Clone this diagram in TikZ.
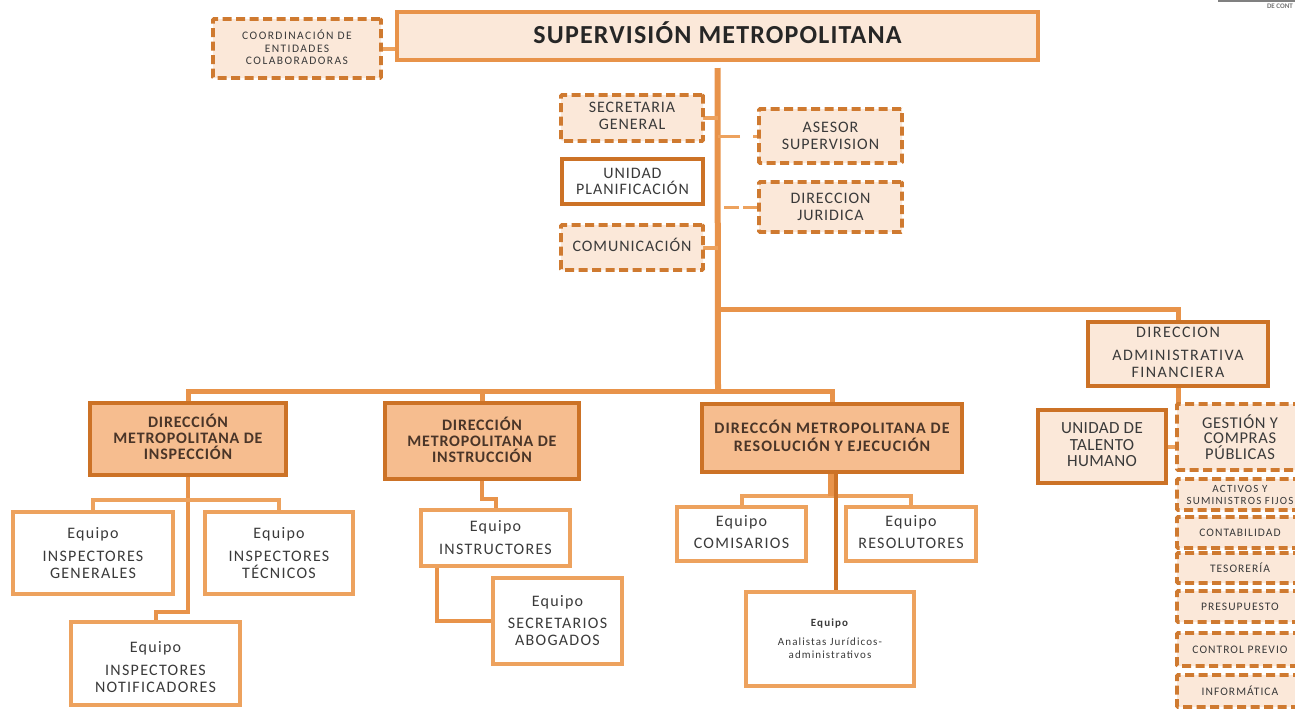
\documentclass[tikz,border=0pt]{standalone}
\usepackage{fontspec}
\setmainfont{Carlito}
\usetikzlibrary{backgrounds}
\definecolor{lineor}{HTML}{EDA25E}
\definecolor{midor}{HTML}{E8934A}
\definecolor{darkor}{HTML}{CF7A30}
\definecolor{deepor}{HTML}{CC7226}
\definecolor{softfill}{HTML}{FBE8D9}
\definecolor{strongfill}{HTML}{F6BD8F}
\definecolor{txt}{HTML}{3A3A3A}
\definecolor{dirtxt}{HTML}{4A3528}
\newcommand{\fs}[3]{\fontsize{#1}{#2}\selectfont\addfontfeatures{LetterSpace=#3}}
\newcommand{\bx}[7]{% name, style, x1,y1,x2,y2,text
  \pgfmathsetmacro{\bw}{#5-#3}\pgfmathsetmacro{\bh}{#6-#4}
  \node[#2,minimum width=\bw pt,minimum height=\bh pt] (#1) at ({(#3+#5)/2},{(#4+#6)/2}) {#7};}
\tikzset{
  x=1pt,y=-1pt,
  boxbase/.style={rectangle,inner sep=0pt,outer sep=0pt,align=center,text=txt},
  dashbox/.style={boxbase,draw=darkor,fill=softfill,line width=3.6pt,dash pattern=on 9pt off 4.5pt,rounded corners=1pt},
  solidbox/.style={boxbase,draw=midor,fill=softfill,line width=3.8pt},
  whitebox/.style={boxbase,draw=lineor,fill=white,line width=3.8pt},
  planbox/.style={boxbase,draw=deepor,fill=white,line width=3.6pt},
  strongbox/.style={boxbase,draw=deepor,fill=strongfill,line width=3.8pt,text=dirtxt,font=\fs{16}{16}{5}\bfseries},
  medbox/.style={boxbase,draw=deepor,fill=softfill,line width=4pt},
  teamfont/.style={font=\fs{16}{17}{8}},
  rightfont/.style={font=\fs{11.5}{12}{9}},
  conn/.style={draw=lineor,line width=4pt},
  busline/.style={draw=midor,line width=5pt},
  trunk/.style={draw=midor,line width=6pt},
  dashconn/.style={draw=lineor,line width=3pt},
  darkconn/.style={draw=deepor,line width=3.6pt},
}
\begin{document}
\begin{tikzpicture}
\useasboundingbox (0,0) rectangle (1295,710);
\bx{top}{solidbox,font=\fs{26}{28}{4.5}\bfseries,text=black!85}{397}{12}{1038}{60}{SUPERVISIÓN METROPOLITANA\\[-22pt]}
\bx{coord}{dashbox,font=\fs{11.5}{12.6}{12.5}}{213}{19}{381}{78}{COORDINACIÓN DE\\ENTIDADES\\COLABORADORAS\\[-10.6pt]}
\bx{secg}{dashbox,font=\fs{16}{17}{6}}{561}{95}{703}{141}{SECRETARIA\\GENERAL\\[-12pt]}
\bx{plan}{planbox,font=\fs{16}{16.5}{6}}{562}{159}{703}{204}{UNIDAD\\PLANIFICACIÓN}
\bx{comu}{dashbox,font=\fs{16}{17}{6}}{561}{225}{703}{270}{COMUNICACIÓN\\[-12pt]}
\bx{ases}{dashbox,font=\fs{16}{16.5}{6}}{759}{109}{902}{163}{ASESOR\\SUPERVISION}
\bx{jur}{dashbox,font=\fs{16}{17}{6}}{759}{182}{902}{232}{DIRECCION\\JURIDICA}
\bx{adm}{medbox,font=\fs{16}{17}{9}}{1088}{322}{1268}{386}{DIRECCION\\[6pt]ADMINISTRATIVA\\FINANCIERA\\[-13pt]}
\bx{tal}{medbox,font=\fs{17}{16.5}{2}}{1038}{410}{1166}{483}{UNIDAD DE\\TALENTO\\HUMANO\\[-13.5pt]}
\begin{scope}
\clip (0,0) rectangle (1295,710);
\bx{ges}{dashbox,font=\fs{16.5}{15.5}{4}}{1177}{404}{1303}{470}{GESTIÓN Y\\COMPRAS\\PÚBLICAS}
\bx{act}{dashbox,font=\fs{11}{12}{11}}{1177}{479}{1303}{510}{ACTIVOS Y\\SUMINISTROS FIJOS}
\bx{con}{dashbox,rightfont}{1177}{517}{1303}{548}{CONTABILIDAD}
\bx{tes}{dashbox,rightfont}{1177}{553}{1303}{583}{TESORERÍA}
\bx{pre}{dashbox,rightfont}{1177}{591}{1303}{622}{PRESUPUESTO}
\bx{ctr}{dashbox,rightfont}{1177}{633}{1303}{666}{CONTROL PREVIO}
\bx{inf}{dashbox,rightfont}{1177}{675}{1303}{707}{INFORMÁTICA}
\end{scope}
\bx{dinsp}{strongbox}{90}{403}{286}{475}{DIRECCIÓN\\METROPOLITANA DE\\INSPECCIÓN\\[-12pt]}
\bx{dinst}{strongbox}{385}{403}{579}{479}{DIRECCIÓN\\METROPOLITANA DE\\INSTRUCCIÓN\\[-13pt]}
\bx{dres}{strongbox,font=\fs{16}{17.5}{7}\bfseries}{702}{404}{962}{472}{DIRECCÓN METROPOLITANA DE\\RESOLUCIÓN Y EJECUCIÓN\\[-13pt]}
\bx{gen}{whitebox,teamfont}{13}{512}{173}{594}{Equipo\\[6pt]INSPECTORES\\GENERALES}
\bx{tec}{whitebox,teamfont}{205}{512}{353}{594}{Equipo\\[6pt]INSPECTORES\\TÉCNICOS}
\bx{noti}{whitebox,teamfont}{71}{622}{240}{705}{\mbox{}\\[1pt]Equipo\\[6pt]INSPECTORES\\NOTIFICADORES}
\bx{ins}{whitebox,teamfont}{421}{510}{570}{566}{Equipo\\[6pt]INSTRUCTORES}
\bx{sab}{whitebox,teamfont}{493}{578}{622}{664}{Equipo\\[5pt]SECRETARIOS\\ABOGADOS}
\bx{com}{whitebox,teamfont}{677}{507}{806}{561}{Equipo\\[5pt]COMISARIOS\\[-13pt]}
\bx{res}{whitebox,teamfont}{846}{507}{976}{561}{Equipo\\[5pt]RESOLUTORES\\[-13pt]}
\bx{ana}{whitebox,font=\fs{11}{13}{10}}{746}{592}{914}{686}{\textbf{Equipo}\\[6pt]Analistas Jurídicos-\\administrativos}
\node[inner sep=0pt,text=black!55] (logo) at (1280,6) {\fs{7}{7}{0}\textbf{DE CONT}};
\fill[black!50] (1218,0) rectangle (1295,1.5);
\coordinate (bus) at (718,391);
\coordinate (busb) at (717,309);
\coordinate (jn) at (170,612);
\coordinate (hb) at (188,500);
\coordinate (mb) at (490,499);
\coordinate (rb) at (832,496);
\begin{pgfonlayer}{background}
\draw[trunk] ([yshift=-8pt]top.south) -- (bus);
\draw[busline] (busb) -| (adm.north);
\draw[busline] (dinsp.north) |- (bus) -| (dres.north);
\draw[busline] (dinst.north) -- (dinst.north |- bus);
\draw[conn] (coord.east) -- (coord.east -| top.west);
\draw[conn] (secg.east) -- (secg.east -| top.south);
\draw[conn] (comu.east) -- (comu.east -| top.south);
\draw[dashconn,dash pattern=on 6pt off 13pt on 22pt off 100pt] (ases.west) -- (ases.west -| top.south);
\draw[dashconn,dash pattern=on 16pt off 4pt on 15pt off 100pt] (jur.west) -- (jur.west -| top.south);
\draw[busline] (adm.south) -- (adm.south |- ges.north);
\draw[conn] (tal.east) -- (tal.east -| ges.west);
\draw[conn,draw=midor] (dinsp.south) |- (jn) -| (noti.north);
\draw[conn] (gen.north) |- (hb) -| (tec.north);
\draw[conn,draw=midor] (dinst.south) |- (mb) -| (ins.north);
\draw[conn,draw=midor] ([xshift=16pt]ins.south west) |- (sab.west);
\draw[conn] (com.north) |- (rb) -| (res.north);
\draw[draw=midor,line width=8pt] (dres.south) -- (rb);
\draw[darkconn] ([xshift=4pt]dres.south) -- ([xshift=4pt]dres.south |- ana.north);
\end{pgfonlayer}
\end{tikzpicture}
\end{document}
